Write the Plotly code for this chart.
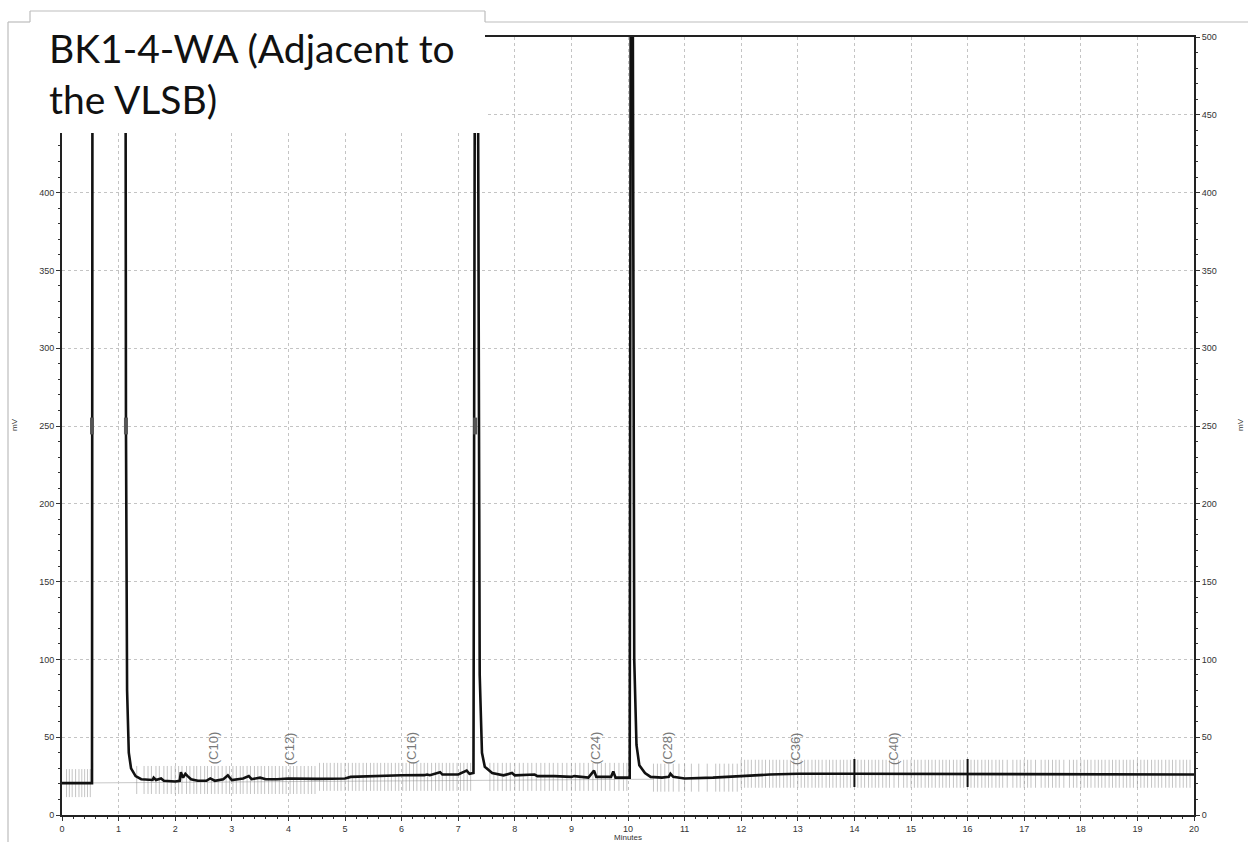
import plotly.graph_objects as go

# ---------------- data ----------------
time_min = [0, 0.53, 0.54, 1.12, 1.13, 1.15, 1.18, 1.22, 1.3, 1.4, 1.6, 1.62, 1.66, 1.75, 1.8,
            2.0, 2.08, 2.1, 2.14, 2.18, 2.22, 2.28, 2.4, 2.55, 2.62, 2.7, 2.85, 2.93, 3.0,
            3.2, 3.3, 3.35, 3.5, 3.6, 3.8, 4.0, 4.5, 5.0, 5.1, 5.5, 6.0, 6.4, 6.45, 6.5,
            6.68, 6.72, 7.0, 7.15, 7.2, 7.27, 7.3, 7.34, 7.38, 7.42, 7.47, 7.6, 7.8, 7.95,
            8.0, 8.35, 8.4, 8.7, 9.0, 9.05, 9.3, 9.4, 9.44, 9.7, 9.74, 9.78, 10.03, 10.05,
            10.08, 10.11, 10.15, 10.2, 10.3, 10.4, 10.6, 10.72, 10.75, 10.8, 11.0, 11.5,
            12.0, 12.5, 13.0, 14.0, 20.0]
signal_mv = [20.5, 20.5, 600, 600, 250, 80, 40, 30, 25, 23, 22.5, 24, 22.5, 23.5, 22,
             21.5, 22, 27.5, 24, 26.5, 25, 23, 22, 22, 23.5, 22, 23, 25.5, 22.5,
             23.5, 25, 23, 24, 23, 23, 23.5, 23.2, 23.5, 24.5, 25, 25.5, 25.6, 26, 25.6,
             27.5, 26, 26, 28.5, 26.5, 27, 600, 600, 90, 40, 31, 27, 25.5, 27,
             25.5, 26, 25, 25, 24.5, 25, 24, 28.5, 24.5, 24.5, 28, 24, 24, 600,
             600, 100, 45, 32, 27, 24.5, 24, 24.5, 26.5, 24.5, 23.5, 24,
             25, 26, 26.5, 26.5, 26]

# integration tick marks (time, grouped by baseline level in mV)
marks_a = [0.08, 0.13, 0.18, 0.24, 0.3, 0.35, 0.4, 0.45, 0.5]
level_a = 20.5
marks_b = [1.32, 1.45, 1.52, 1.58, 1.66, 1.72, 1.8, 1.86, 1.93, 2.0, 2.06, 2.12, 2.2, 2.26,
           2.33, 2.38, 2.45, 2.52, 2.57, 2.64, 2.7, 2.76, 2.83, 2.9, 2.96, 3.02, 3.08, 3.15,
           3.2, 3.27, 3.33, 3.4, 3.46, 3.52, 3.58, 3.65, 3.71, 3.77, 3.84, 3.9, 3.96, 4.03,
           4.09, 4.15, 4.22, 4.28, 4.35, 4.41, 4.47]
level_b = 22.5
marks_c = [4.55, 4.62, 4.68, 4.74, 4.81, 4.87, 4.93, 5.0, 5.06, 5.13, 5.19, 5.25, 5.32, 5.38,
           5.45, 5.51, 5.57, 5.63, 5.7, 5.76, 5.82, 5.89, 5.95, 6.02, 6.08, 6.14, 6.21, 6.27,
           6.34, 6.4, 6.46, 6.53, 6.6, 6.66, 6.72, 6.79, 6.85, 6.91, 6.98, 7.04, 7.1, 7.16, 7.22]
level_c = 24.5
marks_d = [7.56, 7.63, 7.7, 7.78, 7.85, 7.92, 8.0, 8.08, 8.15, 8.23, 8.3, 8.38, 8.46, 8.53,
           8.61, 8.68, 8.76, 8.84, 8.92, 9.0, 9.07, 9.15, 9.22, 9.3, 9.38, 9.46, 9.53, 9.6,
           9.68, 9.76, 9.84, 9.92, 9.98]
level_d = 24.5
marks_e = [10.45, 10.52, 10.58, 10.65, 10.72, 10.8, 10.9, 11.0, 11.12, 11.25, 11.4, 11.55,
           11.62, 11.7, 11.78, 11.85, 11.93]
level_e = 24
marks_f = [12.0, 12.06, 12.12, 12.18, 12.25, 12.31, 12.37, 12.43, 12.5, 12.56, 12.62, 12.68,
           12.75, 12.81, 12.87, 12.93, 13.0, 13.06, 13.12, 13.18, 13.25, 13.31, 13.37, 13.43,
           13.5, 13.56, 13.62, 13.68, 13.75, 13.81, 13.87, 13.93, 14.06, 14.12, 14.18, 14.25,
           14.31, 14.37, 14.43, 14.5, 14.56, 14.62, 14.7, 14.78, 14.87, 14.93, 15.0, 15.06,
           15.12, 15.18, 15.25, 15.31, 15.37, 15.43, 15.5, 15.56, 15.62, 15.68, 15.75, 15.81,
           15.87, 15.93, 16.06, 16.12, 16.18, 16.25, 16.31, 16.37, 16.43, 16.5, 16.56, 16.62,
           16.7, 16.8, 16.87, 16.93, 17.0, 17.06, 17.12, 17.2, 17.3, 17.37, 17.43, 17.5, 17.56,
           17.62, 17.7, 17.8, 17.87, 17.93, 18.0, 18.06, 18.12, 18.18, 18.25, 18.31, 18.37,
           18.43, 18.5, 18.56, 18.62, 18.68, 18.75, 18.81, 18.87, 18.93, 19.0, 19.06, 19.12,
           19.18, 19.25, 19.31, 19.37, 19.43, 19.5, 19.56, 19.62, 19.68, 19.75, 19.81, 19.87,
           19.93]
level_f = 26.5

# event markers (dark ticks) and peak-start markers
event_times = [14.0, 16.0]
event_level = 27
start_times = [0.53, 1.13, 7.3]
start_level = 250

# baseline reference line
baseline_t = [0, 10.45]
baseline_mv = [20.5, 23]

# carbon-range labels
label_times = [2.67, 4.01, 6.17, 9.42, 10.69, 12.95, 14.68]
label_texts = ["(C10)", "(C12)", "(C16)", "(C24)", "(C28)", "(C36)", "(C40)"]
label_level = 43

# axis ticks
y_tickvals = [0, 50, 100, 150, 200, 250, 300, 350, 400, 450, 500]
y_ticktext_left = ["0", "50", "100", "150", "200", "250", "300", "350", "400", "", ""]
y_ticktext_right = ["0", "50", "100", "150", "200", "250", "300", "350", "400", "450", "500"]

title_text = "BK1-4-WA (Adjacent to<br>the VLSB)"
x_title = "Minutes"
y_title = "mV"

# ---------------- layout geometry ----------------
W, H = 1248, 842
PL, PR, PT, PB = 62, 1194, 37, 815


def px(x):
    return (x - PL) / (PR - PL)


def py(y):
    return (PB - y) / (PB - PT)


fig = go.Figure()

# baseline reference
fig.add_trace(go.Scatter(x=baseline_t, y=baseline_mv, mode="lines",
                         line=dict(color="#c8c8c8", width=1), hoverinfo="skip"))

# integration marks
mark_sets = [(marks_a, level_a), (marks_b, level_b), (marks_c, level_c),
             (marks_d, level_d), (marks_e, level_e), (marks_f, level_f)]
for mk, lv in mark_sets:
    fig.add_trace(go.Scatter(x=mk, y=[lv] * len(mk), mode="markers",
                             marker=dict(symbol="line-ns", size=20,
                                         line=dict(color="rgba(140,140,140,0.5)", width=1)),
                             hoverinfo="skip"))

# chromatogram
fig.add_trace(go.Scatter(x=time_min, y=signal_mv, mode="lines",
                         line=dict(color="#111111", width=2.6), hoverinfo="skip"))

# event markers
fig.add_trace(go.Scatter(x=event_times, y=[event_level] * len(event_times), mode="markers",
                         marker=dict(symbol="line-ns", size=20,
                                     line=dict(color="#111111", width=2)),
                         hoverinfo="skip"))
fig.add_trace(go.Scatter(x=start_times, y=[start_level] * len(start_times), mode="markers",
                         marker=dict(symbol="line-ns", size=12,
                                     line=dict(color="#555555", width=4)),
                         hoverinfo="skip"))

# dummy trace for right axis
fig.add_trace(go.Scatter(x=[None], y=[None], yaxis="y2", showlegend=False))

tick_font = dict(family="Liberation Sans Narrow, Liberation Sans, sans-serif", size=9, color="#333333")
grid_kw = dict(showgrid=True, gridcolor="#c4c4c4", gridwidth=1, griddash="3px,3px")

fig.update_layout(
    width=W, height=H, showlegend=False,
    paper_bgcolor="white", plot_bgcolor="white",
    margin=dict(l=PL, r=W - PR, t=PT, b=H - PB, autoexpand=False),
    xaxis=dict(range=[0, 20], dtick=1, tick0=0, ticks="outside", ticklen=4, tickwidth=1,
               tickcolor="#333", showline=True, linecolor="#222", linewidth=2, mirror=True,
               zeroline=False, tickfont=tick_font, automargin=False,
               minor=dict(dtick=0.2, ticks="outside", ticklen=2, tickcolor="#333", showgrid=False),
               **grid_kw),
    yaxis=dict(range=[0, 500], tickmode="array", tickvals=y_tickvals, ticktext=y_ticktext_left,
               ticks="outside", ticklen=4, tickwidth=1,
               tickcolor="#333", showline=True, linecolor="#222", linewidth=2,
               zeroline=False, tickfont=tick_font, automargin=False,
               minor=dict(dtick=10, ticks="outside", ticklen=2, tickcolor="#333", showgrid=False),
               **grid_kw),
    yaxis2=dict(range=[0, 500], tickmode="array", tickvals=y_tickvals, ticktext=y_ticktext_right,
                overlaying="y", side="right",
                ticks="outside", ticklen=4, tickwidth=1, tickcolor="#333",
                showline=True, linecolor="#222", linewidth=2, zeroline=False, showgrid=False,
                tickfont=tick_font, automargin=False,
                minor=dict(dtick=10, ticks="outside", ticklen=2, tickcolor="#333")),
)

# axis titles
small_font = dict(family="Liberation Sans Narrow, Liberation Sans, sans-serif", size=8, color="#333")
fig.add_annotation(x=px(628), y=py(837), xref="paper", yref="paper", text=x_title,
                   showarrow=False, xanchor="center", yanchor="middle", font=small_font)
fig.add_annotation(x=px(14), y=py(425), xref="paper", yref="paper", text=y_title, textangle=-90,
                   showarrow=False, xanchor="center", yanchor="middle", font=small_font)
fig.add_annotation(x=px(1240), y=py(425), xref="paper", yref="paper", text=y_title, textangle=-90,
                   showarrow=False, xanchor="center", yanchor="middle", font=small_font)

# carbon labels
for t, txt in zip(label_times, label_texts):
    fig.add_annotation(x=t, y=label_level, xref="x", yref="y", text=txt, textangle=-90,
                       showarrow=False, xanchor="center", yanchor="middle",
                       font=dict(family="Liberation Sans, Arial, sans-serif", size=13, color="#7a7a7a"))

# title box (white panel covering the top-left of the plot) and slide frame lines
shapes = [
    dict(type="rect", xref="paper", yref="paper", x0=px(9), x1=px(485), y0=py(133), y1=py(11.5),
         fillcolor="white", line=dict(width=0), layer="above"),
]
frame = [((30, 11), (485, 11)), ((30, 11), (30, 22)), ((8, 22), (30, 22)),
         ((485, 11), (485, 22)), ((485, 22), (1248, 22)), ((8, 22), (8, 842))]
for (xa, ya), (xb, yb) in frame:
    shapes.append(dict(type="line", xref="paper", yref="paper", x0=px(xa), y0=py(ya),
                       x1=px(xb), y1=py(yb), line=dict(color="#bdbdbd", width=1.2), layer="above"))
fig.update_layout(shapes=shapes)

fig.add_annotation(x=px(47), y=py(74), xref="paper", yref="paper", text=title_text,
                   showarrow=False, xanchor="left", yanchor="middle", align="left",
                   font=dict(family="Lato, Open Sans, sans-serif", size=39, color="#111"))

fig.write_html("out.html")
